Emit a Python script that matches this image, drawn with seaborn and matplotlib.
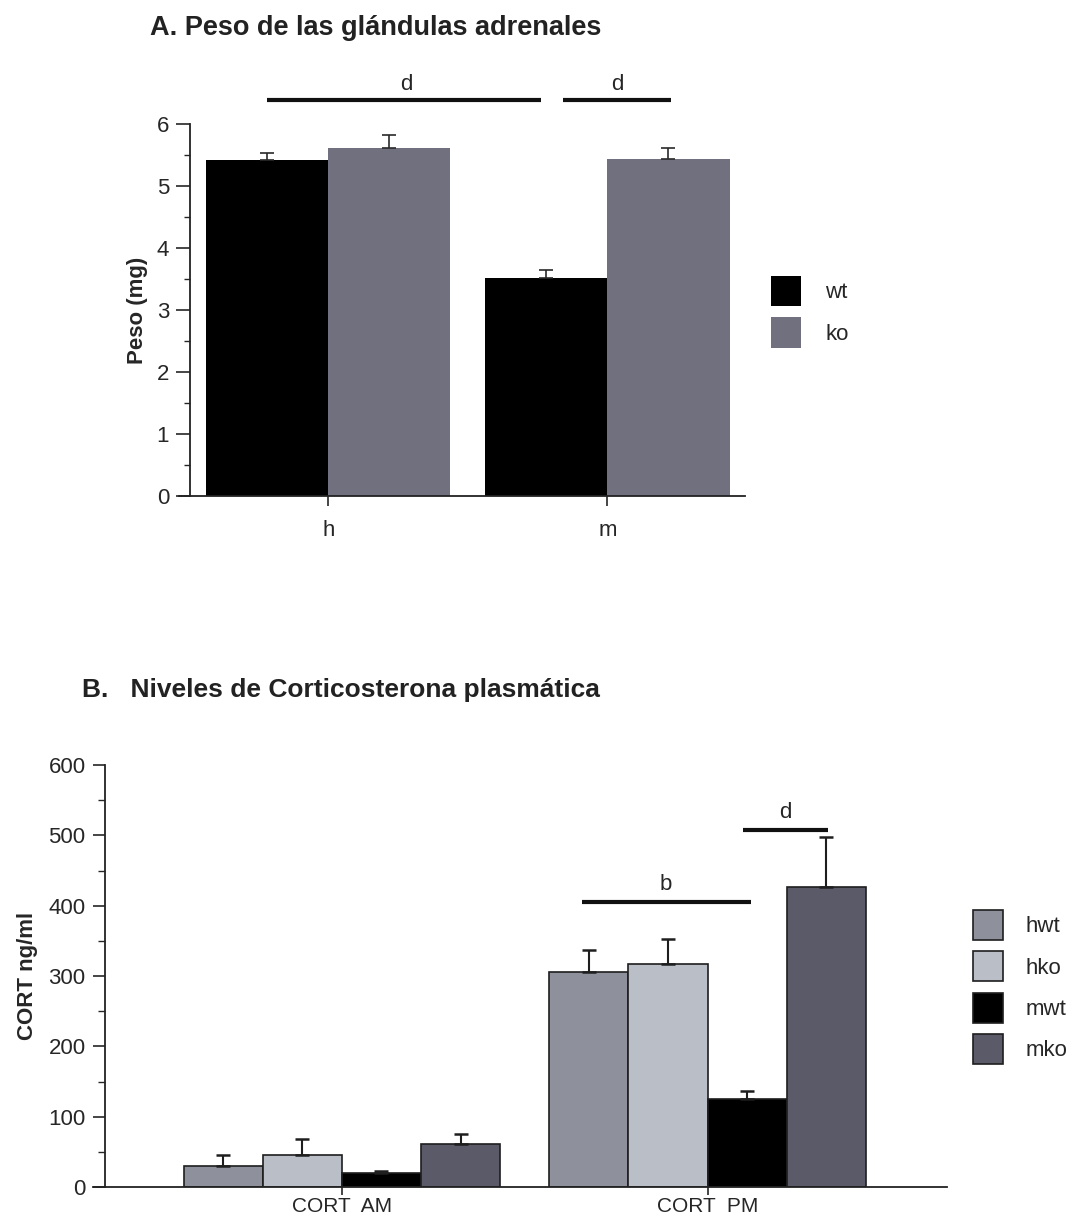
import numpy as np
import pandas as pd
import matplotlib
matplotlib.use("Agg")
import matplotlib.pyplot as plt
import seaborn as sns
from matplotlib.patches import Patch
from matplotlib.ticker import MultipleLocator

# ---------------- Data ----------------
# Panel A
sexes_a = ["h", "m"]
genotypes_a = ["wt", "ko"]
peso_wt = [5.42, 3.52]
peso_ko = [5.62, 5.44]
peso_wt_err = [0.11, 0.13]
peso_ko_err = [0.21, 0.17]
colors_a = ["#000000", "#70707f"]

# Panel B
periods_b = ["CORT  AM", "CORT  PM"]
groups_b = ["hwt", "hko", "mwt", "mko"]
cort_hwt = [30, 305]
cort_hko = [46, 317]
cort_mwt = [20, 125]
cort_mko = [61, 427]
cort_hwt_err = [16, 32]
cort_hko_err = [22, 35]
cort_mwt_err = [3, 12]
cort_mko_err = [15, 71]
colors_b = ["#8e909b", "#babec7", "#000000", "#5a5a68"]

# ---------------- Style ----------------
sns.set_theme(style="white")
plt.rcParams["font.family"] = ["Liberation Sans", "DejaVu Sans"]
plt.rcParams["axes.linewidth"] = 1.3

FS = 16
fig = plt.figure(figsize=(10.76, 12.23), dpi=100)

# ================= Panel A =================
dfa = pd.DataFrame({
    "sex": sexes_a * 2,
    "geno": ["wt"] * 2 + ["ko"] * 2,
    "peso": peso_wt + peso_ko,
})
erra = {"wt": peso_wt_err, "ko": peso_ko_err}

axA = fig.add_axes([179 / 1076, 1 - 496 / 1223, 566 / 1076, 372 / 1223])
sns.barplot(data=dfa, x="sex", y="peso", hue="geno", order=sexes_a,
            hue_order=genotypes_a, palette=colors_a, width=0.875,
            errorbar=None, saturation=1, linewidth=0, ax=axA, legend=False)
centersA = {}
for cont, g in zip(axA.containers, genotypes_a):
    xs, hs = [], []
    for bar in cont:
        xs.append(bar.get_x() + bar.get_width() / 2)
        hs.append(bar.get_height())
    centersA[g] = xs
    axA.errorbar(xs, hs, yerr=[np.zeros(len(hs)), erra[g]], fmt="none",
                 ecolor="#2a2a2a", elinewidth=1.2, capsize=5, capthick=1.2)

axA.set_xlim(-0.535, 1.493)
axA.set_ylim(0, 6)
axA.spines["left"].set_position(("axes", 11 / 566))
axA.yaxis.set_major_locator(MultipleLocator(1))
axA.yaxis.set_minor_locator(MultipleLocator(0.5))
axA.tick_params(axis="y", which="major", direction="out", length=10, width=1.2,
                labelsize=FS, pad=5, left=True)
axA.tick_params(axis="y", which="minor", direction="out", length=4, width=1.0, left=True)
axA.tick_params(axis="x", direction="out", length=7, width=1.2, labelsize=FS, pad=10, bottom=True)
axA.set_xlabel("")
axA.set_ylabel("Peso (mg)", fontsize=16, fontweight="bold")
axA.yaxis.set_label_coords(-0.055, 0.5)
for s in ["top", "right"]:
    axA.spines[s].set_visible(False)
axA.spines["left"].set_color("#222222")
axA.spines["bottom"].set_color("#222222")

# significance bars A
yA = 6.38
x1, x2 = centersA["wt"][0], centersA["wt"][1] - 0.02
axA.plot([x1, x2], [yA, yA], color="#111111", lw=3, clip_on=False, solid_capstyle="butt")
axA.text((x1 + x2) / 2 + 0.01, yA + 0.08, "d", ha="center", va="bottom", fontsize=FS)
x3, x4 = centersA["wt"][1] + 0.06, centersA["ko"][1] + 0.01
axA.plot([x3, x4], [yA, yA], color="#111111", lw=3, clip_on=False, solid_capstyle="butt")
axA.text((x3 + x4) / 2, yA + 0.08, "d", ha="center", va="bottom", fontsize=FS)

fig.text(0.139, 0.977, "A. Peso de las glándulas adrenales", fontsize=19.5,
         fontweight="bold", color="#222222", ha="left", va="center")

handlesA = [Patch(facecolor=c, edgecolor="none", label=l) for c, l in zip(colors_a, genotypes_a)]
fig.legend(handles=handlesA, loc="center left", bbox_to_anchor=(0.698, 0.745),
           frameon=False, fontsize=FS, handlelength=1.35, handleheight=1.71,
           labelspacing=0.5, handletextpad=1.1)

# ================= Panel B =================
valsb = [cort_hwt, cort_hko, cort_mwt, cort_mko]
errsb = [cort_hwt_err, cort_hko_err, cort_mwt_err, cort_mko_err]
dfb = pd.DataFrame({
    "period": periods_b * 4,
    "group": [g for g in groups_b for _ in periods_b],
    "cort": [v for vals in valsb for v in vals],
})

axB = fig.add_axes([93 / 1076, 1 - 1187 / 1223, 854 / 1076, 422 / 1223])
sns.barplot(data=dfb, x="period", y="cort", hue="group", order=periods_b,
            hue_order=groups_b, palette=colors_b, width=0.865, errorbar=None,
            saturation=1, edgecolor="#1e1e1e", linewidth=1.2, ax=axB, legend=False)
centersB = {}
for cont, g, e in zip(axB.containers, groups_b, errsb):
    xs, hs = [], []
    for bar in cont:
        xs.append(bar.get_x() + bar.get_width() / 2)
        hs.append(bar.get_height())
    centersB[g] = xs
    axB.errorbar(xs, hs, yerr=[np.zeros(len(hs)), e], fmt="none",
                 ecolor="#1e1e1e", elinewidth=1.5, capsize=5, capthick=1.8)

axB.set_xlim(-0.681, 1.655)
axB.set_ylim(0, 600)
axB.spines["left"].set_position(("axes", 12 / 854))
axB.yaxis.set_major_locator(MultipleLocator(100))
axB.yaxis.set_minor_locator(MultipleLocator(50))
axB.tick_params(axis="y", which="major", direction="out", length=9, width=1.2,
                labelsize=FS, pad=5, left=True)
axB.tick_params(axis="y", which="minor", direction="out", length=5, width=1.0, left=True)
axB.tick_params(axis="x", direction="out", length=6, width=1.2, labelsize=15, pad=1, bottom=True)
axB.set_xlabel("")
axB.set_ylabel("CORT ng/ml", fontsize=16, fontweight="bold")
axB.yaxis.set_label_coords(-0.064, 0.5)
for s in ["top", "right"]:
    axB.spines[s].set_visible(False)
axB.spines["left"].set_color("#222222")
axB.spines["bottom"].set_color("#222222")

# significance bars B
yb = 405
bx1, bx2 = centersB["hwt"][1] - 0.02, centersB["mwt"][1] + 0.01
axB.plot([bx1, bx2], [yb, yb], color="#111111", lw=3, solid_capstyle="butt", clip_on=False)
axB.text((bx1 + bx2) / 2, yb + 10, "b", ha="center", va="bottom", fontsize=FS)
yd = 508
dx1, dx2 = centersB["mwt"][1] - 0.01, centersB["mko"][1] + 0.005
axB.plot([dx1, dx2], [yd, yd], color="#111111", lw=3, solid_capstyle="butt", clip_on=False)
axB.text((dx1 + dx2) / 2, yd + 10, "d", ha="center", va="bottom", fontsize=FS)

fig.text(0.076, 0.436, "B.   Niveles de Corticosterona plasmática", fontsize=19,
         fontweight="bold", color="#222222", ha="left", va="center")

handlesB = [Patch(facecolor=c, edgecolor="#1e1e1e", linewidth=1.2, label=l)
            for c, l in zip(colors_b, groups_b)]
fig.legend(handles=handlesB, loc="center left", bbox_to_anchor=(0.886, 0.193),
           frameon=False, fontsize=FS, handlelength=1.35, handleheight=1.71,
           labelspacing=0.5, handletextpad=1.0)

fig.savefig("out.png", dpi=100, facecolor="white")
